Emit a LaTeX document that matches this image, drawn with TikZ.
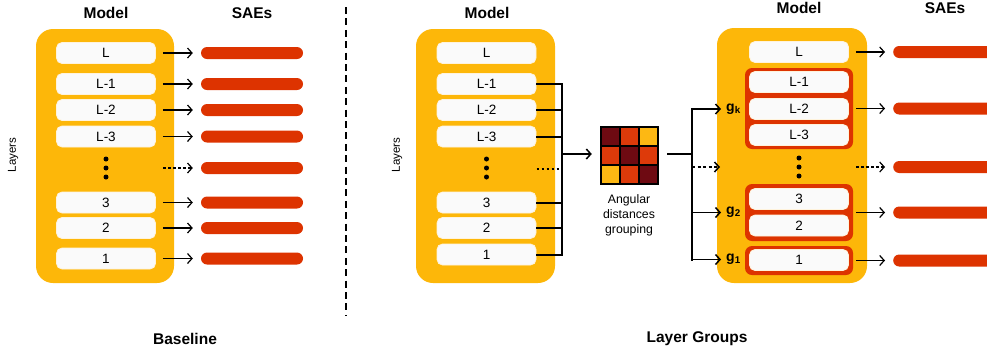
\documentclass[tikz,border=0pt]{standalone}
\usepackage{fontspec}
\setmainfont{Liberation Sans}
\usetikzlibrary{arrows.meta}
\definecolor{modelorange}{HTML}{FDB709}
\definecolor{saered}{HTML}{DD3300}
\definecolor{boxwhite}{HTML}{FAFAFA}
\definecolor{boxedge}{HTML}{FFF3DC}
\definecolor{cdark}{HTML}{6E0A12}
\definecolor{cred}{HTML}{DD3A0A}
\definecolor{cyellow}{HTML}{FDB813}
\begin{document}
\begin{tikzpicture}[x=1pt,y=-1pt,
  every node/.style={inner sep=0pt},
  model/.style={fill=modelorange, rounded corners=17pt},
  layer/.style={fill=boxwhite, draw=boxedge, line width=0.8pt, rounded corners=5.5pt,
    minimum width=99pt, minimum height=21pt, font=\fontsize{13.5}{15}\selectfont},
  sae/.style={fill=saered, rounded corners=6pt, minimum height=12pt},
  title/.style={font=\fontsize{15.5}{17}\selectfont\bfseries},
  side/.style={rotate=90, font=\fontsize{11.5}{13}\selectfont},
  glabel/.style={anchor=west, font=\fontsize{14}{15}\selectfont\bfseries},
  feed/.style={line width=1.2pt,
    -{Straight Barb[length=4.5pt,width=10pt,line width=1.2pt]},
    shorten <=7pt, shorten >=8pt},
  dfeed/.style={feed, dash pattern=on 2.5pt off 2.5pt},
  bus/.style={line width=2pt},
  link/.style={line width=1.5pt,
    -{Straight Barb[length=4.5pt,width=10pt,line width=1.5pt]}},
  dot/.style={circle, fill=black, minimum size=5pt},
  groupframe/.style={fill=saered, rounded corners=7pt},
]
\useasboundingbox (0,0) rectangle (987,349);
\clip (0,0) rectangle (987,349);

% ---------------- Baseline: one SAE per layer ----------------
\node[title] (bmodelt) at (106,13) {Model};
\node[title] (bsaet) at (252,13) {SAEs};
\node[side] (blayers) at (13,155) {Layers};
\node[model, minimum width=138pt, minimum height=254pt] (bmodel) at (105,156) {};

\node[layer] (bL)  at (106,53)    {L};
\node[layer] (bL1) at (106,84)    {L-1};
\node[layer] (bL2) at (106,110)   {L-2};
\node[layer] (bL3) at (106,136.5) {L-3};
\node[dot] (bd1) at (106,159) {};
\node[dot] (bd2) at (106,168) {};
\node[dot] (bd3) at (106,177) {};
\coordinate (bdots) at (156,168);
\node[layer] (b3) at (106,202.5) {3};
\node[layer] (b2) at (106,228)   {2};
\node[layer] (b1) at (106,258.5) {1};

\foreach \n/\y in {L/53,L1/84,L2/110,L3/136.5,D/168,3/202.5,2/228,1/258.5}
  \node[sae, minimum width=102pt] (bs\n) at (252,\y) {};

\foreach \n in {L,L1,L2,L3,3,2,1}
  \draw[feed] (b\n.east) -- (bs\n.west);
\draw[dfeed] (bdots) -- (bsD.west);

\node[title] (baseline) at (185,339) {Baseline};

% divider between the two schemes
\coordinate (divtop) at (346,7);
\coordinate (divbot) at (346,316);
\draw[line width=1.3pt, dash pattern=on 7pt off 4.4pt] (divtop) -- (divbot);

% ---------------- Layer groups ----------------
\node[title] (mmodelt) at (487,13) {Model};
\node[side] (mlayers) at (397,155) {Layers};
\node[model, minimum width=139pt, minimum height=254pt] (mmodel) at (485.5,156) {};

\node[layer] (mL)  at (486.5,53)    {L};
\node[layer] (mL1) at (486.5,84)    {L-1};
\node[layer] (mL2) at (486.5,110)   {L-2};
\node[layer] (mL3) at (486.5,136.5) {L-3};
\node[dot] (md1) at (486.5,159) {};
\node[dot] (md2) at (486.5,168) {};
\node[dot] (md3) at (486.5,177) {};
\coordinate (mdots) at (536.5,169);
\node[layer] (m3) at (486.5,202.5) {3};
\node[layer] (m2) at (486.5,228)   {2};
\node[layer] (m1) at (486.5,254.5) {1};

% collecting bus from the layers
\coordinate (bus) at (562,154);
\foreach \n in {L1,L2,L3,3,2,1}
  \draw[bus] (m\n.east) -- (m\n.east -| bus);
\draw[bus, line cap=rect] (mL1.east -| bus) -- (m1.east -| bus);
\draw[line width=1.3pt, dash pattern=on 2.5pt off 2.5pt] (mdots) -- (mdots -| bus);

% angular distance matrix
\node[minimum size=57pt] (mat) at (629.5,155.5) {};
\draw[link, shorten >=9pt] (bus) -- (bus -| mat.west);
\foreach \r/\c/\col in {0/0/cdark,0/1/cred,0/2/cyellow,
                        1/0/cred,1/1/cdark,1/2/cred,
                        2/0/cyellow,2/1/cred,2/2/cdark}
  \fill[\col] ([xshift=\c*19pt, yshift=-\r*19pt]mat.north west) rectangle ++(19,19);
\foreach \i in {1,2} {
  \draw[line width=1.4pt] ([xshift=\i*19pt]mat.north west) -- ([xshift=\i*19pt]mat.south west);
  \draw[line width=1.4pt] ([yshift=-\i*19pt]mat.north west) -- ([yshift=-\i*19pt]mat.north east);
}
\draw[line width=1.8pt] (mat.north west) rectangle (mat.south east);
\node[font=\fontsize{12.3}{15}\selectfont, align=center] (matlabel) at (629,215)
  {Angular\\distances\\grouping};

% grouped model
\node[title] (rmodelt) at (799,8) {Model};
\node[title] (rsaet) at (945,8) {SAEs};
\node[model, minimum width=150pt, minimum height=255pt] (rmodel) at (792,155.5) {};

\node[groupframe, minimum width=108pt, minimum height=81pt] (fgk) at (799,108.5) {};
\node[groupframe, minimum width=108pt, minimum height=57pt] (fg2) at (799,212.5) {};
\node[groupframe, minimum width=108pt, minimum height=29pt] (fg1) at (799,260.5) {};

\node[layer] (rL)  at (799,52)  {L};
\node[layer] (rL1) at (799,82)  {L-1};
\node[layer] (rL2) at (799,109) {L-2};
\node[layer] (rL3) at (799,135) {L-3};
\node[dot] (rd1) at (799,158) {};
\node[dot] (rd2) at (799,167) {};
\node[dot] (rd3) at (799,176) {};
\coordinate (rdots) at (849,167);
\node[layer] (r3) at (799,199)   {3};
\node[layer] (r2) at (799,225.5) {2};
\node[layer] (r1) at (799,260)   {1};

\node[glabel] (gk) at (726,109) {g\textsubscript{k}};
\node[glabel] (g2) at (726,212.5) {g\textsubscript{2}};
\node[glabel] (g1) at (726,259.5) {g\textsubscript{1}};
\coordinate (gd) at (724,167);

% distribution bus to the groups
\coordinate (rbus) at (692,154);
\draw[bus, shorten <=9pt] (rbus -| mat.east) -- (rbus);
\draw[bus, line cap=rect] (gk.west -| rbus) -- (g1.west -| rbus);
\foreach \g in {gk,g2,g1}
  \draw[link, shorten >=5pt] (\g.west -| rbus) -- (\g.west);
\draw[link, dash pattern=on 3pt off 2.5pt, shorten >=4pt] (gd -| rbus) -- (gd);

% one SAE per group
\node[sae, minimum width=130pt, anchor=west] (rsL) at (893,52)    {};
\node[sae, minimum width=130pt, anchor=west] (rsk) at (893,108.5) {};
\node[sae, minimum width=130pt, anchor=west] (rsD) at (893,167)   {};
\node[sae, minimum width=130pt, anchor=west] (rs2) at (893,212.5) {};
\node[sae, minimum width=130pt, anchor=west] (rs1) at (893,260.5) {};

\draw[feed] (rL.east) -- (rsL.west);
\draw[feed, shorten <=3pt] (fgk.east) -- (rsk.west);
\draw[dfeed] (rdots) -- (rsD.west);
\draw[feed, shorten <=3pt] (fg2.east) -- (rs2.west);
\draw[feed, shorten <=3pt] (fg1.east) -- (rs1.west);

\node[title] (groups) at (697,339) {Layer Groups};
\end{tikzpicture}
\end{document}
